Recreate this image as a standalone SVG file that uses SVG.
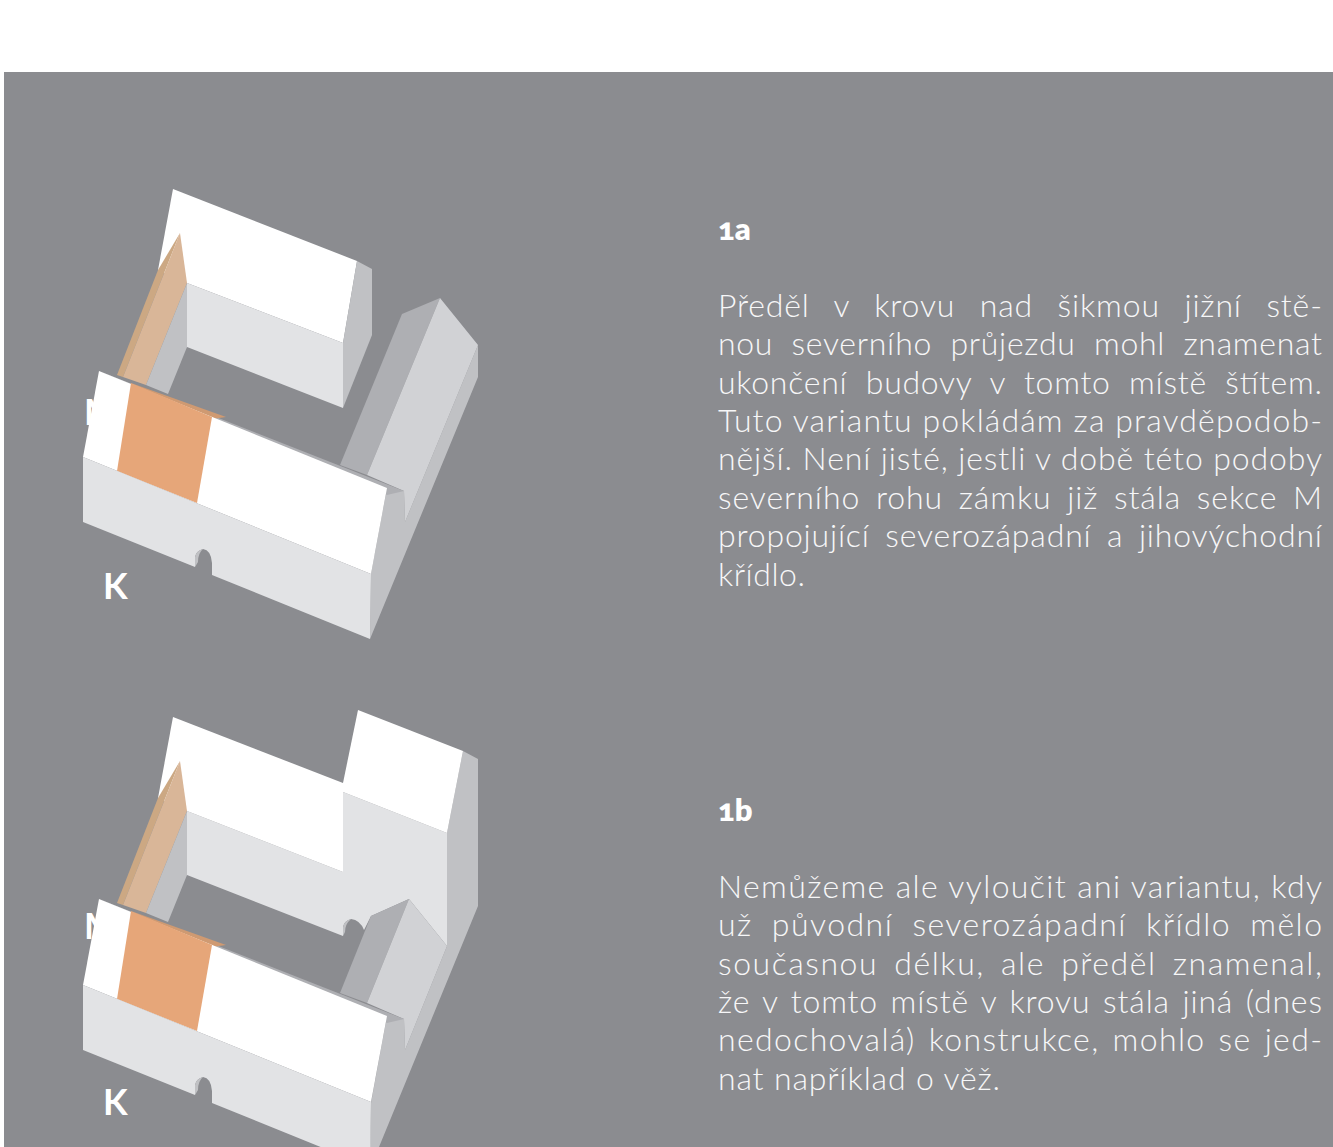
<svg xmlns="http://www.w3.org/2000/svg" xmlns:xlink="http://www.w3.org/1999/xlink" width="1333" height="1147" viewBox="0 0 1333 1147">
<style>
.bg{fill:#8b8c90}
.w{fill:#fff}
.l{fill:#e2e3e5}
.g{fill:#c0c1c4}
.lg{fill:#d1d2d5}
.dg{fill:#aeafb3}
.o{fill:#e6a679}
.do{fill:#cf9a72}
.t{fill:#d9b698}
.dt{fill:#cca883}
.lab{font-family:"Lato","Open Sans",sans-serif;font-weight:700;fill:#fff;font-size:36px}
.h{font-family:"Lato","Open Sans",sans-serif;font-weight:800;fill:#fff;font-size:31px;font-feature-settings:"onum"}
.p{font-family:"Lato","Open Sans",sans-serif;font-weight:300;fill:#f7f7f8;font-size:32px}
</style>
<defs>
<g id="front-block">
<polygon class="dg" points="99,371 404,491 387,495"/>
<polygon class="do" points="131,383 226,417 212,419"/>
<polygon class="w" points="99,371 387,488 371,574 83,457"/>
<polygon class="o" points="131,383 212,417 197,503 117,471"/>
<path class="l" d="M83,457 L371,574 L370,639 L212,575 L212,563 Q211,550 203,549 Q196,551 195,557 L195,567 L83,522 Z"/>
<path class="g" d="M195,567 L195,557 Q196,551 203,549 Q198,553 198,562 Z"/>
</g>
<g id="tan-wing">
<polygon class="dt" points="180,233 158,270 117,375 123,377"/>
<polygon class="t" points="180,233 187,283 146,385 123,377"/>
<polygon class="g" points="187,283 187,347 168,394 146,385"/>
</g>
</defs>
<rect width="1333" height="1147" fill="#fff"/>
<rect class="bg" x="4" y="72" width="1329" height="1075"/>

<g id="connectors"/>

<g id="node-1a">
<text class="lab" x="84" y="425">M</text>
<g id="wing-1a-north">
<polygon class="w" points="173,189 357,261 343,343 187,283 158,270"/>
<polygon class="l" points="187,283 343,343 343,408 187,347"/>
<polygon class="g" points="357,261 372,269 372,335 343,408 343,343"/>
</g>
<use xlink:href="#tan-wing" href="#tan-wing"/>
<g id="wing-1a-east">
<polygon class="g" points="387,488 404,491 405,522 478,345 478,377 370,639 371,574"/>
<polygon class="dg" points="340,465 402,314 440,298 367,475"/>
<polygon class="lg" points="440,298 478,345 405,522 404,491 367,475"/>
</g>
<use xlink:href="#front-block" href="#front-block"/>
<text class="lab" x="103" y="599">K</text>
</g>

<g id="node-1b">
<text class="lab" x="84" y="939">M</text>
<g id="wing-1b-north">
<polygon class="g" points="447,833 463,751 478,759 478,906 379,1147 370,1147 371,1103 387,1016 404,1019 405,1050 447,946"/>
<path class="l" d="M187,811 L343,872 L343,792 L447,833 L447,946 L409,899 L371,916 L364,930 Q360,920 351,919 Q344,921 343,927 L343,936 L187,875 Z"/>
<path class="g" d="M343,936 L343,927 Q344,921 351,919 Q345,924 345,932 Z"/>
<polygon class="w" points="173,717 343,783 343,872 187,811 158,798"/>
<polygon class="w" points="358,710 463,751 447,833 343,792 343,783"/>
</g>
<use xlink:href="#tan-wing" href="#tan-wing" transform="translate(0,528)"/>
<g id="wing-1b-east">
<polygon class="dg" points="340,993 371,916 409,899 367,1003"/>
<polygon class="lg" points="409,899 447,946 405,1050 404,1019 367,1003"/>
</g>
<use xlink:href="#front-block" href="#front-block" transform="translate(0,528)"/>
<text class="lab" x="103" y="1115">K</text>
</g>

<g id="text-1a">
<text class="h" x="718" y="240">1a</text>
<text class="p" x="718" y="317" word-spacing="15" textLength="604">Předěl v krovu nad šikmou jižní stě-</text>
<text class="p" x="718" y="355" word-spacing="9" textLength="604">nou severního průjezdu mohl znamenat</text>
<text class="p" x="718" y="394" word-spacing="9" textLength="604">ukončení budovy v tomto místě štítem.</text>
<text class="p" x="718" y="432" textLength="604">Tuto variantu pokládám za pravděpodob-</text>
<text class="p" x="718" y="470" textLength="604">nější. Není jisté, jestli v době této podoby</text>
<text class="p" x="718" y="509" word-spacing="6" textLength="604">severního rohu zámku již stála sekce M</text>
<text class="p" x="718" y="547" word-spacing="6" textLength="604">propojující severozápadní a jihovýchodní</text>
<text class="p" x="718" y="586" textLength="87">křídlo.</text>
</g>

<g id="text-1b">
<text class="h" x="718" y="821">1b</text>
<text class="p" x="718" y="898" textLength="604">Nemůžeme ale vyloučit ani variantu, kdy</text>
<text class="p" x="718" y="936" word-spacing="9" textLength="604">už původní severozápadní křídlo mělo</text>
<text class="p" x="718" y="975" word-spacing="6" textLength="604">současnou délku, ale předěl znamenal,</text>
<text class="p" x="718" y="1013" word-spacing="3" textLength="604">že v tomto místě v krovu stála jiná (dnes</text>
<text class="p" x="718" y="1051" word-spacing="3" textLength="604">nedochovalá) konstrukce, mohlo se jed-</text>
<text class="p" x="718" y="1090" textLength="282">nat například o věž.</text>
</g>
</svg>
